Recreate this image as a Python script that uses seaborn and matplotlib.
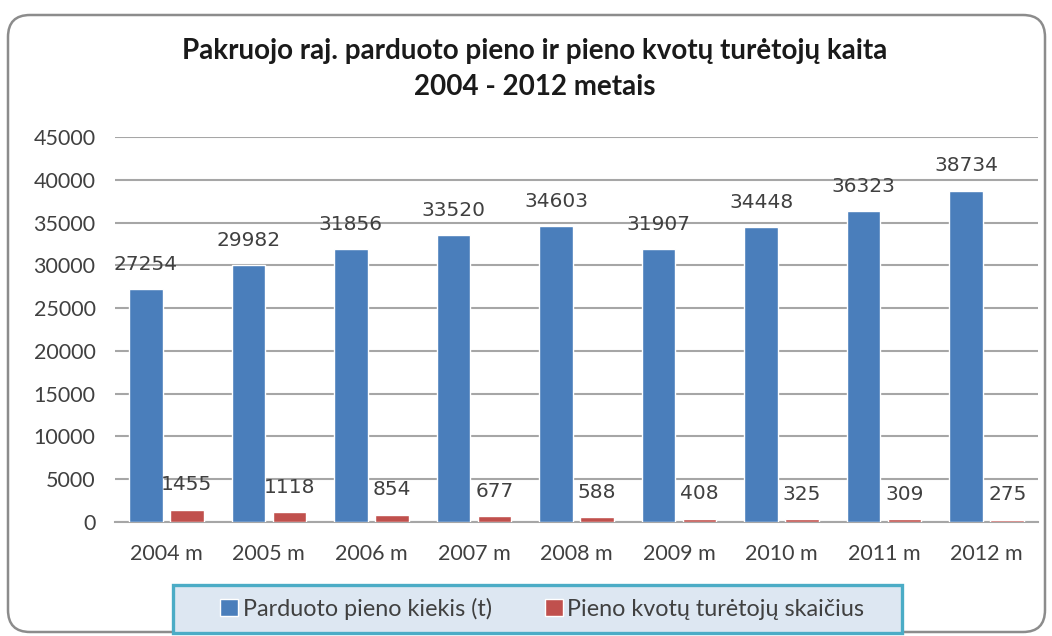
import matplotlib
matplotlib.use("Agg")
import matplotlib.pyplot as plt
from matplotlib import font_manager
from matplotlib.patches import FancyBboxPatch, Rectangle
import pandas as pd
import seaborn as sns

years = ["2004 m", "2005 m", "2006 m", "2007 m", "2008 m",
         "2009 m", "2010 m", "2011 m", "2012 m"]
milk_sold = [27254, 29982, 31856, 33520, 34603, 31907, 34448, 36323, 38734]
quota_holders = [1455, 1118, 854, 677, 588, 408, 325, 309, 275]
series_names = ["Parduoto pieno kiekis (t)", "Pieno kvotų turėtojų skaičius"]
y_ticks = [0, 5000, 10000, 15000, 20000, 25000, 30000, 35000, 40000, 45000]
title_text = "Pakruojo raj. parduoto pieno ir pieno kvotų turėtojų kaita\n2004 - 2012 metais"

BLUE = "#4A7EBB"
RED = "#C0504D"
TEXT = "#404040"


def pick_font(candidates):
    available = {f.name for f in font_manager.fontManager.ttflist}
    for name in candidates:
        if name in available:
            return name
    return "DejaVu Sans"


sns.set_theme(style="white")
body_font = pick_font(["Lato", "Open Sans", "DejaVu Sans"])
plt.rcParams["font.family"] = [body_font, "DejaVu Sans"]

df = pd.DataFrame({
    "year": years * 2,
    "series": [series_names[0]] * len(years) + [series_names[1]] * len(years),
    "value": milk_sold + quota_holders,
})

fig = plt.figure(figsize=(10.52, 6.36), dpi=100)
fig.patch.set_facecolor("white")

# rounded outer frame of the chart area
frame = FancyBboxPatch((0.08, 0.04), 10.37, 6.17,
                       boxstyle="round,pad=0,rounding_size=0.22",
                       transform=fig.dpi_scale_trans, facecolor="none",
                       edgecolor="#8c8c8c", linewidth=1.8, zorder=-5)
fig.patches.append(frame)

ax = fig.add_axes([115 / 1052, 1 - 522 / 636, 923 / 1052, 385 / 636])
ax.set_facecolor("none")

sns.barplot(data=df, x="year", y="value", hue="series",
            palette=[BLUE, RED], width=0.8, gap=0.18,
            saturation=1, ax=ax, zorder=3)

ax.set_ylim(0, 45000)
ax.set_yticks(y_ticks)
ax.set_yticklabels([str(t) for t in y_ticks])
ax.set_xlabel("")
ax.set_ylabel("")
ax.yaxis.grid(True, color="#a6a6a6", linewidth=1.5, zorder=0)
ax.set_axisbelow(True)
for side in ["top", "right", "left"]:
    ax.spines[side].set_visible(False)
ax.spines["bottom"].set_color("#a6a6a6")
ax.spines["bottom"].set_linewidth(1.5)
ax.tick_params(axis="both", length=0, labelsize=15.5, labelcolor=TEXT)
ax.tick_params(axis="y", pad=14)
ax.tick_params(axis="x", pad=16)

for container, values in zip(ax.containers, [milk_sold, quota_holders]):
    ax.bar_label(container, labels=[str(v) for v in values], padding=11,
                 fontsize=14.5, color=TEXT, family="DejaVu Sans")

# legend box below the plot
box = Rectangle((173 / 1052, 3 / 636), 729 / 1052, 48 / 636,
                transform=fig.transFigure, facecolor="#dde7f2",
                edgecolor="#4BACC6", linewidth=2.4, zorder=1)
fig.patches.append(box)

handles, labels = ax.get_legend_handles_labels()
if ax.get_legend() is not None:
    ax.get_legend().remove()
leg = fig.legend(handles, labels, loc="center",
                 bbox_to_anchor=(542.5 / 1052, 1 - 609 / 636),
                 ncol=2, frameon=False, fontsize=16.8,
                 handlelength=0.75, handleheight=0.75, handletextpad=0.2,
                 columnspacing=2.3, borderpad=0.2, borderaxespad=0)
leg.set_zorder(2)
for t in leg.get_texts():
    t.set_color(TEXT)

fig.text(535 / 1052, 1 - 69 / 636, title_text, ha="center", va="center",
         fontsize=20, fontweight="bold", color="#1a1a1a", linespacing=1.5)

fig.savefig("out.png", dpi=100, facecolor="white")
